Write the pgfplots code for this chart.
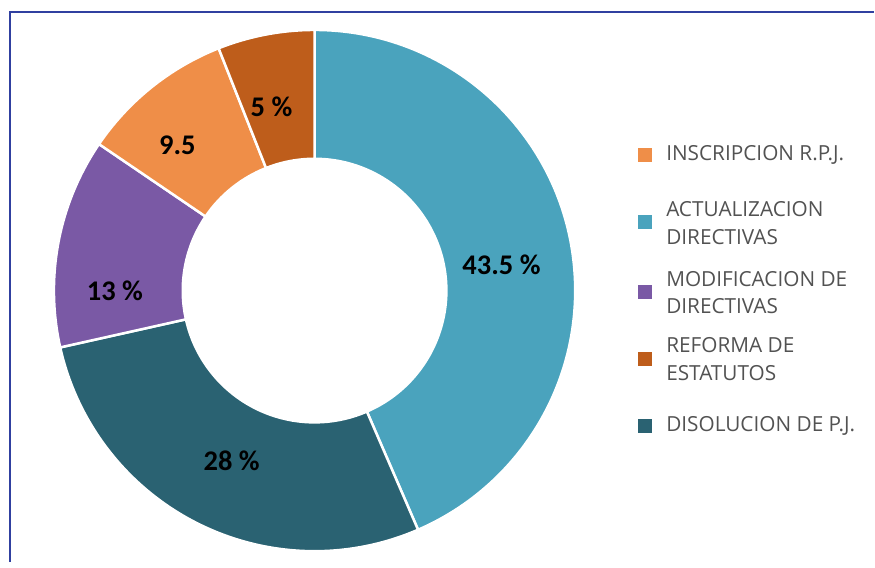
\documentclass[border=0pt]{standalone}
\usepackage{pgfplots}
\pgfplotsset{compat=1.18}
\usepackage{pgfplotstable}
\usepackage{fontspec}
\setmainfont{Carlito}
\newfontfamily\legfont{Open Sans}

\definecolor{cact}{RGB}{74,163,189}
\definecolor{cdis}{RGB}{42,98,114}
\definecolor{cmod}{RGB}{122,89,165}
\definecolor{cins}{RGB}{239,142,72}
\definecolor{cref}{RGB}{190,93,27}
\definecolor{frameblue}{RGB}{48,64,160}
\definecolor{leggray}{RGB}{82,82,82}

\newcommand\lblfont{\fontsize{28.5bp}{32bp}\selectfont\bfseries}
\newcommand\legtext{\legfont\fontsize{20.8bp}{28bp}\selectfont}

% slices clockwise from 12 o'clock; lrad/ladj = label radius and angle tweak
\pgfplotstableread{
value col  lrad ladj label
43.5  cact 189  -3.8 {43.5 \%}
28    cdis 190  1.1  {28 \%}
13    cmod 200  10.8 {13 \%}
9.5   cins 200  4.7  {9.5}
6     cref 189  2.4  {5 \%}
}\donutdata

\begin{document}
\begin{tikzpicture}
\begin{axis}[
  width=875bp, height=563bp, scale only axis,
  xmin=0, xmax=875, ymin=0, ymax=563,
  hide axis, clip=false,
]
\path (axis cs:0,0) rectangle (axis cs:875,563);
\draw[frameblue, line width=2.5bp] (axis cs:10,0) -- (axis cs:10,551) -- (axis cs:875,551);

\pgfplotstablegetrowsof{\donutdata}
\pgfmathtruncatemacro\lastrow{\pgfplotsretval-1}
\def\cum{0}
\pgfplotsforeachungrouped \i in {0,...,\lastrow}{%
  \pgfplotstablegetelem{\i}{value}\of\donutdata \let\val\pgfplotsretval
  \pgfplotstablegetelem{\i}{col}\of\donutdata \let\col\pgfplotsretval
  \pgfplotstablegetelem{\i}{lrad}\of\donutdata \let\lrad\pgfplotsretval
  \pgfplotstablegetelem{\i}{ladj}\of\donutdata \let\ladj\pgfplotsretval
  \pgfplotstablegetelem{\i}{label}\of\donutdata \let\lbl\pgfplotsretval
  \pgfmathsetmacro\aa{90-3.6*\cum}
  \pgfmathsetmacro\ab{90-3.6*(\cum+\val)}
  \pgfmathsetmacro\am{(\aa+\ab)/2+\ladj}
  \pgfmathsetmacro\cum{\cum+\val}
  \edef\temp{%
    \noexpand\filldraw[fill=\col, draw=white, line width=2.5bp, shift={(axis cs:315,272)}]
      (\aa:261bp) arc[start angle=\aa, end angle=\ab, radius=261bp]
      -- (\ab:132bp) arc[start angle=\ab, end angle=\aa, radius=132bp] -- cycle;
    \noexpand\path[shift={(axis cs:315,272)}] (\am:\lrad bp)
      node[font=\noexpand\lblfont, text=black] {\lbl};
  }%
  \temp
}

% legend
\fill[cins] (axis cs:639,401) rectangle (axis cs:653,415);
\node[anchor=west, inner sep=0pt, text=leggray, font=\legtext] at (axis cs:667,408) {INSCRIPCION R.P.J.};
\fill[cact] (axis cs:639,334) rectangle (axis cs:653,348);
\node[anchor=west, inner sep=0pt, text=leggray, font=\legtext, align=left] at (axis cs:667,339.5) {ACTUALIZACION\\DIRECTIVAS};
\fill[cmod] (axis cs:639,264) rectangle (axis cs:653,278);
\node[anchor=west, inner sep=0pt, text=leggray, font=\legtext, align=left] at (axis cs:667,270) {MODIFICACION DE\\DIRECTIVAS};
\fill[cref] (axis cs:639,196) rectangle (axis cs:653,210);
\node[anchor=west, inner sep=0pt, text=leggray, font=\legtext, align=left] at (axis cs:667,203) {REFORMA DE\\ESTATUTOS};
\fill[cdis] (axis cs:639,129) rectangle (axis cs:653,143);
\node[anchor=west, inner sep=0pt, text=leggray, font=\legtext] at (axis cs:667,136) {DISOLUCION DE P.J.};
\end{axis}
\end{tikzpicture}
\end{document}
